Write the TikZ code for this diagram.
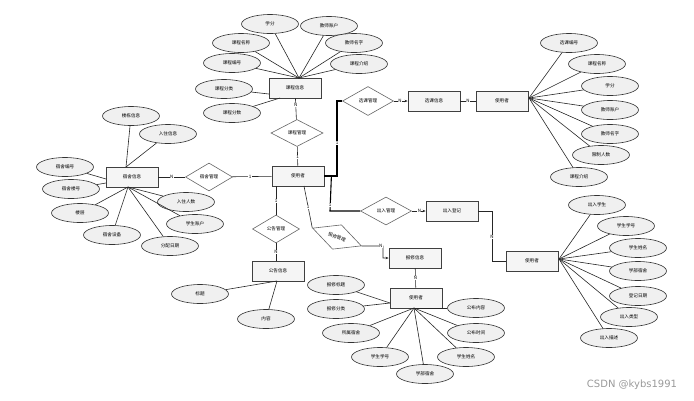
\documentclass[tikz,border=0pt]{standalone}
\usepackage{fontspec}
\setmainfont{Noto Sans CJK SC}
\newfontfamily\wmfont{DejaVu Sans}
\usetikzlibrary{shapes.geometric,arrows.meta}
\begin{document}
\begin{tikzpicture}[x=1pt,y=-1pt,
  ent/.style={draw=black!75, line width=0.8pt, fill=black!4, minimum width=52pt, minimum height=20pt, inner sep=0pt, font=\fontsize{4.6}{5}\selectfont},
  attr/.style={ellipse, draw=black!80, line width=0.6pt, fill=black!6, minimum width=57pt, minimum height=19pt, inner sep=0pt, font=\fontsize{4.6}{5}\selectfont},
  rel/.style={diamond, aspect=2, draw=black!60, line width=0.6pt, fill=white, minimum width=52pt, minimum height=27pt, inner sep=0pt, font=\fontsize{4.6}{5}\selectfont},
  ln/.style={draw=black!85, line width=0.6pt},
  route/.style={draw=black, line width=1.1pt},
  arr/.style={draw=black!85, line width=0.6pt, -{Stealth[length=3pt,width=2.5pt]}},
  lab/.style={fill=white, inner sep=0.4pt, font=\fontsize{4.5}{5}\selectfont}
]
\useasboundingbox (0,0) rectangle (694,400);

% ---------- course info ----------
\node[ent] (course) at (295,88) {课程信息};
\node[attr] (c1) at (270,24) {学分};
\node[attr] (c2) at (329,26) {教师账户};
\node[attr] (c3) at (241,43) {课程名称};
\node[attr] (c4) at (354,43) {教师名字};
\node[attr] (c5) at (232,63) {课程编号};
\node[attr] (c6) at (359,64) {课程介绍};
\node[attr] (c7) at (224,89) {课程分类};
\node[attr] (c8) at (232,113) {课程分数};
\coordinate (cc) at (299,78);
\coordinate (cc7) at (269,94);
\coordinate (cc8) at (280,98);
\foreach \n in {c1,c2,c3,c4,c5,c6} \draw[ln] (\n) -- (cc);
\draw[ln] (c7) -- (cc7);
\draw[ln] (c8) -- (cc8);

\node[rel] (r1) at (297,133) {课程管理};
\node[ent] (mgr) at (298,176) {使用者};
\draw[ln] (course) -- (r1) node[lab, pos=0.3] {N};
\draw[ln] (r1) -- (mgr) node[lab, pos=0.55] {1};

% ---------- dorm info ----------
\node[ent] (dorm) at (132,177) {宿舍信息};
\node[attr] (d1) at (131,116) {楼栋信息};
\node[attr] (d2) at (168,134) {入住信息};
\node[attr] (d3) at (65,167) {宿舍编号};
\node[attr] (d4) at (71,189) {宿舍楼号};
\node[attr] (d5) at (80,213) {楼层};
\node[attr] (d6) at (112,235) {宿舍设备};
\node[attr] (d7) at (186,202) {入住人数};
\node[attr] (d8) at (195,224) {学生账户};
\node[attr] (d9) at (170,246) {分配日期};
\coordinate (dt) at (126,167);
\coordinate (dl1) at (106,179);
\coordinate (dl2) at (106,183);
\coordinate (db) at (128,187);
\draw[ln] (d1) -- (dt);
\draw[ln] (d2) -- (dt);
\draw[ln] (d3) -- (dl1);
\draw[ln] (d4) -- (dl2);
\foreach \n in {d5,d6,d7,d8,d9} \draw[ln] (\n) -- (db);

\node[rel, minimum width=47pt, minimum height=28pt] (r2) at (209,177) {宿舍管理};
\draw[ln] (dorm) -- (r2) node[lab, midway] {N};
\draw[ln] (r2) -- (mgr) node[lab, pos=0.45] {1};

% ---------- announcement ----------
\node[rel, minimum width=47pt, minimum height=28pt] (r3) at (276,229) {公告管理};
\node[ent] (ann) at (278,271) {公告信息};
\node[attr] (a1) at (200,294) {标题};
\node[attr] (a2) at (266,319) {内容};
\coordinate (ac) at (277,281);
\draw[ln] (a1) -- (ac);
\draw[ln] (a2) -- (ac);
\draw[ln] (mgr.south -| r3) -- (r3) node[lab, pos=0.5] {1};
\draw[ln] (r3) -- (ann.north -| r3) node[lab, pos=0.5] {N};

% ---------- repair ----------
\node[rel, minimum width=52pt, minimum height=26pt, rotate=-20] (r4) at (337,237) {报修管理};
\node[ent] (rep) at (415,258) {报修信息};
\node[ent] (u4) at (416,298) {使用者};
\coordinate (m4) at (304,186);
\draw[ln] (m4) -- (r4.west) node[lab, pos=0.5] {1};
\draw[arr] (r4.east) -- (383,246) node[lab, pos=0.9] {N} -- (383,258) -- (rep.west);
\draw[ln] (rep) -- (u4) node[lab, midway] {N};
\node[attr] (b1) at (336,285) {报修标题};
\node[attr] (b2) at (336,309) {报修分类};
\node[attr] (b3) at (351,333) {所属宿舍};
\node[attr] (b4) at (380,357) {学生学号};
\node[attr] (b5) at (425,374) {学部宿舍};
\node[attr] (b6) at (466,357) {学生姓名};
\node[attr] (b7) at (476,333) {公布时间};
\node[attr] (b8) at (476,308) {公布内容};
\coordinate (bl) at (390,303);
\coordinate (bc) at (414,308);
\draw[ln] (b1) -- (bl);
\draw[ln] (b2) -- (bl);
\foreach \n in {b3,b4,b5,b6,b7,b8} \draw[ln] (\n) -- (bc);

% ---------- course selection ----------
\node[rel, minimum width=51pt, minimum height=29pt] (r5) at (368,101) {选课管理};
\node[ent] (sel) at (434,101) {选课信息};
\node[ent] (u5) at (502,101) {使用者};
\draw[route] (mgr.east) -- (337,176) -- (337,101) -- (r5.west);
\node[lab] at (337,143) {1};
\draw[arr] (r5) -- (sel) node[lab, pos=0.45] {N};
\draw[ln] (sel) -- (u5) node[lab, midway] {N};
\node[attr] (s1) at (569,43) {选课编号};
\node[attr] (s2) at (597,64) {课程名称};
\node[attr] (s3) at (610,86) {学分};
\node[attr] (s4) at (610,110) {教师账户};
\node[attr] (s5) at (610,134) {教师名字};
\node[attr] (s6) at (601,155) {限制人数};
\node[attr] (s7) at (579,177) {课程介绍};
\coordinate (sc) at (529,98);
\foreach \n in {s1,s2,s3,s4,s5,s6,s7} \draw[ln] (\n) -- (sc);

% ---------- entry / exit ----------
\node[rel, minimum width=51pt, minimum height=28pt] (r6) at (386,211) {出入管理};
\node[ent] (io) at (452,211) {出入登记};
\node[ent] (u6) at (532,261) {使用者};
\draw[route] (mgr.east) ++(7,0) -- (330,211) -- (r6.west);
\node[lab] at (330,205) {1};
\draw[arr] (r6) -- (io) node[lab, pos=0.55] {N};
\draw[ln] (io.east) -- (492,211) -- (492,261) -- (u6.west);
\node[lab] at (492,237) {N};
\node[attr] (e1) at (597,205) {出入学生};
\node[attr] (e2) at (626,226) {学生学号};
\node[attr] (e3) at (638,248) {学生姓名};
\node[attr] (e4) at (638,271) {学部宿舍};
\node[attr] (e5) at (638,296) {登记日期};
\node[attr] (e6) at (629,317) {出入类型};
\node[attr] (e7) at (609,338) {出入描述};
\coordinate (ec) at (559,259);
\foreach \n in {e1,e2,e3,e4,e5,e6,e7} \draw[ln] (\n) -- (ec);

% ---------- watermark ----------
\node[text=black!40, font=\wmfont\fontsize{10}{11}\selectfont] (wm) at (632,385) {CSDN @kybs1991};
\end{tikzpicture}
\end{document}
